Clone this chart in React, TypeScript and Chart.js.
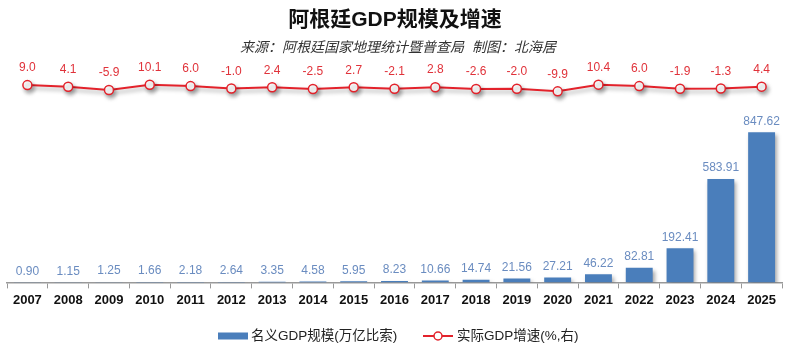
import React, { useEffect, useRef } from "react";
import { Chart, registerables } from "chart.js";

Chart.register(...registerables);

const years = ["2007","2008","2009","2010","2011","2012","2013","2014","2015","2016","2017","2018","2019","2020","2021","2022","2023","2024","2025"];
const gdpNominal = [0.90,1.15,1.25,1.66,2.18,2.64,3.35,4.58,5.95,8.23,10.66,14.74,21.56,27.21,46.22,82.81,192.41,583.91,847.62];
const gdpGrowth = [9.0,4.1,-5.9,10.1,6.0,-1.0,2.4,-2.5,2.7,-2.1,2.8,-2.6,-2.0,-9.9,10.4,6.0,-1.9,-1.3,4.4];

const titleText = "阿根廷GDP规模及增速";
const subtitleText = "来源：阿根廷国家地理统计暨普查局  制图：北海居";
const barLegend = "名义GDP规模(万亿比索)";
const lineLegend = "实际GDP增速(%,右)";

const FONT = '"Liberation Sans", Arial, "Noto Sans CJK SC", sans-serif';
const BAR_COLOR = "#4a7ebb";
const LINE_COLOR = "#e3222b";

export default function App() {
  const ref = useRef<HTMLCanvasElement | null>(null);
  useEffect(() => {
    document.body.style.margin = "0";
    const canvas = ref.current!;
    const shadowPlugin = {
      id: "shadow",
      beforeDatasetDraw(chart: any) {
        const ctx = chart.ctx;
        ctx.save();
        ctx.shadowColor = "rgba(0,0,0,0.35)";
        ctx.shadowBlur = 4;
        ctx.shadowOffsetX = 2;
        ctx.shadowOffsetY = 3;
      },
      afterDatasetDraw(chart: any) {
        chart.ctx.restore();
      },
    };
    const labelsPlugin = {
      id: "labelsAndDecor",
      afterDatasetsDraw(chart: any) {
        const ctx = chart.ctx;
        ctx.save();
        ctx.textAlign = "center";
        ctx.textBaseline = "bottom";
        const m0 = chart.getDatasetMeta(0);
        ctx.font = `12px ${FONT}`;
        ctx.fillStyle = "#6a8cc0";
        m0.data.forEach((el: any, i: number) => {
          ctx.fillText(gdpNominal[i].toFixed(2), el.x, el.y - 5);
        });
        const m1 = chart.getDatasetMeta(1);
        ctx.fillStyle = "#e0323a";
        m1.data.forEach((el: any, i: number) => {
          ctx.fillText(gdpGrowth[i].toFixed(1), el.x, el.y - 11);
        });
        ctx.restore();
      },
      afterDraw(chart: any) {
        const ctx = chart.ctx;
        const W = chart.width;
        ctx.save();
        ctx.textAlign = "center";
        ctx.textBaseline = "middle";
        ctx.fillStyle = "#111";
        ctx.font = `bold 21px ${FONT}`;
        ctx.fillText(titleText, W / 2 - 5, 20);
        ctx.fillStyle = "#333";
        ctx.font = `italic 14px ${FONT}`;
        ctx.fillText(subtitleText, W / 2 - 2, 48);
        const ly = 336;
        ctx.fillStyle = BAR_COLOR;
        ctx.fillRect(218, ly - 3.5, 30, 7);
        ctx.fillStyle = "#222";
        ctx.font = `13.5px ${FONT}`;
        ctx.textAlign = "left";
        ctx.fillText(barLegend, 251, ly);
        ctx.strokeStyle = LINE_COLOR;
        ctx.lineWidth = 2;
        ctx.beginPath();
        ctx.moveTo(423, ly);
        ctx.lineTo(453, ly);
        ctx.stroke();
        ctx.fillStyle = "#fff";
        ctx.lineWidth = 1.5;
        ctx.beginPath();
        ctx.arc(438, ly, 4, 0, Math.PI * 2);
        ctx.fill();
        ctx.stroke();
        ctx.fillStyle = "#222";
        ctx.fillText(lineLegend, 457, ly);
        ctx.restore();
      },
    };
    const chart = new Chart(canvas, {
      type: "bar",
      data: {
        labels: years,
        datasets: [
          {
            type: "bar",
            label: barLegend,
            data: gdpNominal,
            backgroundColor: BAR_COLOR,
            borderWidth: 0,
            barPercentage: 0.66,
            categoryPercentage: 1,
            yAxisID: "y",
            order: 2,
          },
          {
            type: "line",
            label: lineLegend,
            data: gdpGrowth,
            borderColor: LINE_COLOR,
            borderWidth: 2,
            pointRadius: 4.5,
            pointBackgroundColor: "#fff",
            pointBorderColor: LINE_COLOR,
            pointBorderWidth: 1.5,
            yAxisID: "y1",
            order: 1,
          },
        ],
      },
      options: {
        responsive: false,
        animation: false,
        layout: { padding: { top: 60, left: 7, right: 18, bottom: 47 } },
        plugins: {
          legend: { display: false },
          title: { display: false },
          tooltip: { enabled: false },
        },
        scales: {
          x: {
            offset: true,
            grid: {
              offset: true,
              drawOnChartArea: false,
              drawTicks: true,
              tickLength: 6,
              color: "#999",
            },
            border: { display: true, color: "#999", width: 1.5 },
            ticks: {
              color: "#111",
              font: { family: FONT, size: 13, weight: "bold" },
              padding: 4,
              maxRotation: 0,
              autoSkip: false,
            },
          },
          y: { display: false, min: 0, max: 1255 },
          y1: { display: false, position: "right", min: -588, max: 85 },
        },
      },
      plugins: [shadowPlugin, labelsPlugin],
    });
    return () => chart.destroy();
  }, []);
  return <canvas ref={ref} width={800} height={359} style={{ display: "block" }} />;
}
